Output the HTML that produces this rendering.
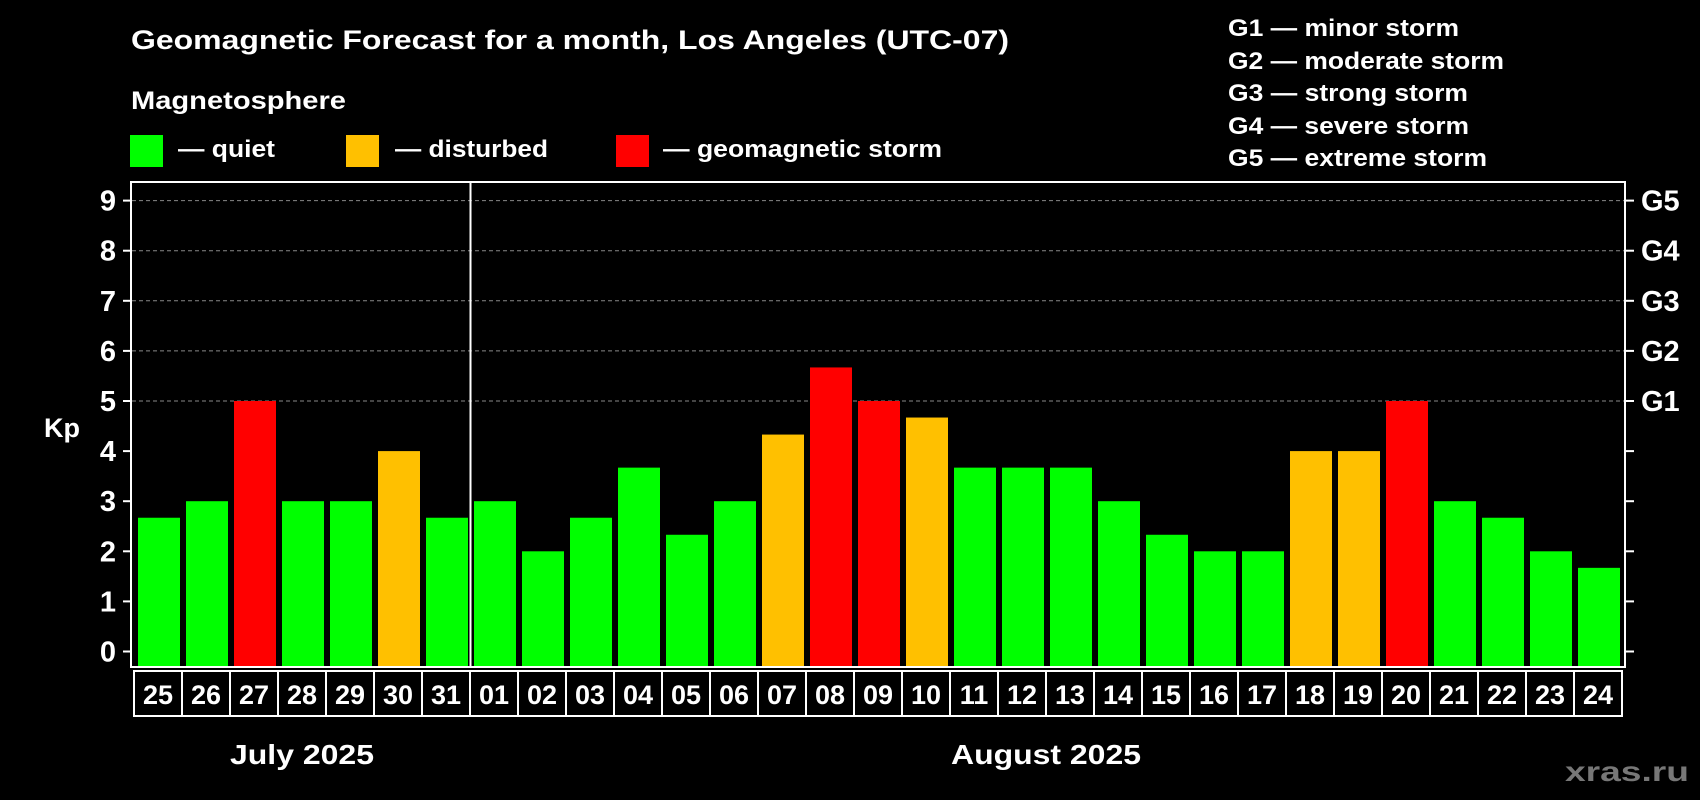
<!DOCTYPE html>
<html><head><meta charset="utf-8">
<style>
html,body{margin:0;padding:0;background:#000;}
svg{display:block;font-family:"Liberation Sans",Arial,sans-serif;font-weight:bold;}
</style></head>
<body>
<svg id="chart" width="1700" height="800" viewBox="0 0 1700 800">
<text x="131" y="49" fill="#fff" font-size="27" textLength="878" lengthAdjust="spacingAndGlyphs">Geomagnetic Forecast for a month, Los Angeles (UTC-07)</text>
<text x="131" y="109" fill="#fff" font-size="25" textLength="215" lengthAdjust="spacingAndGlyphs">Magnetosphere</text>
<g>
<rect x="130" y="135" width="33" height="32" fill="#00ff00"/>
<text x="178" y="157" fill="#fff" font-size="24" textLength="97" lengthAdjust="spacingAndGlyphs">— quiet</text></g>
<g>
<rect x="346" y="135" width="33" height="32" fill="#ffc000"/>
<text x="395" y="157" fill="#fff" font-size="24" textLength="153" lengthAdjust="spacingAndGlyphs">— disturbed</text></g>
<g>
<rect x="616" y="135" width="33" height="32" fill="#ff0000"/>
<text x="663" y="157" fill="#fff" font-size="24" textLength="279" lengthAdjust="spacingAndGlyphs">— geomagnetic storm</text></g>
<g fill="#fff" font-size="24" lengthAdjust="spacingAndGlyphs">
<text x="1228" y="36" textLength="231" lengthAdjust="spacingAndGlyphs">G1 — minor storm</text>
<text x="1228" y="69" textLength="276" lengthAdjust="spacingAndGlyphs">G2 — moderate storm</text>
<text x="1228" y="101" textLength="240" lengthAdjust="spacingAndGlyphs">G3 — strong storm</text>
<text x="1228" y="134" textLength="241" lengthAdjust="spacingAndGlyphs">G4 — severe storm</text>
<text x="1228" y="166" textLength="259" lengthAdjust="spacingAndGlyphs">G5 — extreme storm</text>
</g>
<text x="62" y="437" fill="#fff" font-size="27" text-anchor="middle">Kp</text>
<g id="grid"></g>
<g id="bars"></g>
<rect x="131" y="182" width="1494" height="485" fill="none" stroke="#fff" stroke-width="2"/>
<line x1="470.5" y1="182" x2="470.5" y2="667" stroke="#fff" stroke-width="2"/>
<g id="xcells"></g>
<text x="302" y="764" fill="#fff" font-size="28" text-anchor="middle" textLength="144" lengthAdjust="spacingAndGlyphs">July 2025</text>
<text x="1046" y="764" fill="#fff" font-size="28" text-anchor="middle" textLength="190" lengthAdjust="spacingAndGlyphs">August 2025</text>
<text x="1689" y="781" fill="#777" font-size="28" text-anchor="end" textLength="124" lengthAdjust="spacingAndGlyphs">xras.ru</text>
</svg>
<script>
const days = ["25","26","27","28","29","30","31","01","02","03","04","05","06","07","08","09","10","11","12","13","14","15","16","17","18","19","20","21","22","23","24"];
const kpValues = [2.67,3,5,3,3,4,2.67,3,2,2.67,3.67,2.33,3,4.33,5.67,5,4.67,3.67,3.67,3.67,3,2.33,2,2,4,4,5,3,2.67,2,1.67];
const yTicks = [0,1,2,3,4,5,6,7,8,9];
const gLabels = ["G1","G2","G3","G4","G5"];
const gLevels = [5,6,7,8,9];

const NS="http://www.w3.org/2000/svg";
const x0=134, slot=48, yZero=651.5, yUnit=50.1;
const y = v => yZero - v*yUnit;
const x = i => x0 + i*slot;
function mk(t,a){const e=document.createElementNS(NS,t);for(const k in a)e.setAttribute(k,a[k]);return e;}
const grid=document.getElementById('grid'), bars=document.getElementById('bars'), xc=document.getElementById('xcells');
yTicks.forEach(t=>{
  const l=mk('line',{x1:123,x2:131,y1:y(t),y2:y(t),stroke:'#fff','stroke-width':2});
  
  
  grid.appendChild(l);
  const r=mk('line',{x1:1625,x2:1634,y1:y(t),y2:y(t),stroke:'#fff','stroke-width':2});
  
  
  grid.appendChild(r);
  const tx=mk('text',{x:116,y:y(t)+10,fill:'#fff','font-size':29,'text-anchor':'end'});
  tx.textContent=t;
  
  
  grid.appendChild(tx);
});
gLevels.forEach((lv,i)=>{
  const g=mk('line',{x1:132,x2:1624,y1:y(lv),y2:y(lv),stroke:'#888','stroke-width':1,'stroke-dasharray':'4,3'});
  
  
  grid.appendChild(g);
  const tx=mk('text',{x:1641,y:y(lv)+10,fill:'#fff','font-size':29});
  tx.textContent=gLabels[i];
  
  
  grid.appendChild(tx);
});
kpValues.forEach((v,i)=>{
  const c = v>=5?'#ff0000':(v>=4?'#ffc000':'#00ff00');
  const b=mk('rect',{x:x(i)+4,y:y(v),width:42,height:666-y(v),fill:c});
  
  
  bars.appendChild(b);
  const cell=mk('rect',{x:x(i),y:671,width:slot,height:45,fill:'none',stroke:'#fff','stroke-width':2});
  
  
  xc.appendChild(cell);
  const tx=mk('text',{x:x(i)+slot/2,y:704,fill:'#fff','font-size':27,'text-anchor':'middle'});
  tx.textContent=days[i];
  
  
  xc.appendChild(tx);
});
</script>
</body></html>
